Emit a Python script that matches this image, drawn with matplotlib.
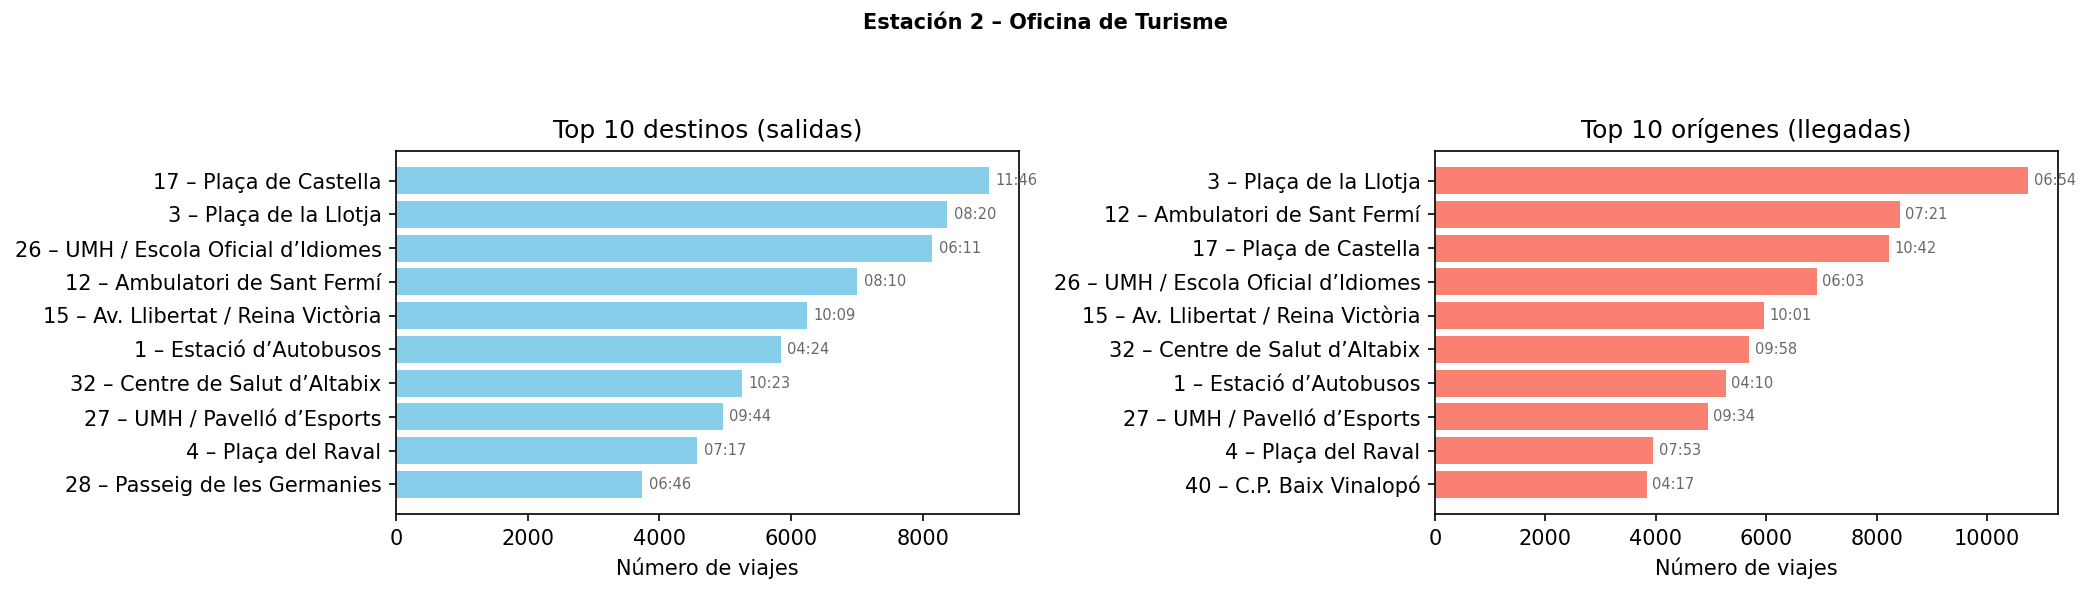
import matplotlib
matplotlib.use("Agg")
import matplotlib.pyplot as plt

suptitle = "Estación 2 – Oficina de Turisme"

dest_title = "Top 10 destinos (salidas)"
dest_labels = [
    "17 – Plaça de Castella",
    "3 – Plaça de la Llotja",
    "26 – UMH / Escola Oficial d’Idiomes",
    "12 – Ambulatori de Sant Fermí",
    "15 – Av. Llibertat / Reina Victòria",
    "1 – Estació d’Autobusos",
    "32 – Centre de Salut d’Altabix",
    "27 – UMH / Pavelló d’Esports",
    "4 – Plaça del Raval",
    "28 – Passeig de les Germanies",
]
dest_values = [9005, 8370, 8143, 7002, 6240, 5844, 5252, 4962, 4572, 3741]
dest_times = ["11:46", "08:20", "06:11", "08:10", "10:09", "04:24", "10:23", "09:44", "07:17", "06:46"]

orig_title = "Top 10 orígenes (llegadas)"
orig_labels = [
    "3 – Plaça de la Llotja",
    "12 – Ambulatori de Sant Fermí",
    "17 – Plaça de Castella",
    "26 – UMH / Escola Oficial d’Idiomes",
    "15 – Av. Llibertat / Reina Victòria",
    "32 – Centre de Salut d’Altabix",
    "1 – Estació d’Autobusos",
    "27 – UMH / Pavelló d’Esports",
    "4 – Plaça del Raval",
    "40 – C.P. Baix Vinalopó",
]
orig_values = [10743, 8421, 8222, 6918, 5957, 5689, 5270, 4943, 3950, 3836]
orig_times = ["06:54", "07:21", "10:42", "06:03", "10:01", "09:58", "04:10", "09:34", "07:53", "04:17"]

xlabel = "Número de viajes"

W, H, DPI = 2091, 594, 150
fig = plt.figure(figsize=(W / DPI, H / DPI), dpi=DPI)

ax_w = 622.7 / W
ax_h = 363.6 / H
bottom = 1 - 514.3 / H
ax1 = fig.add_axes([396 / W, bottom, ax_w, ax_h])
ax2 = fig.add_axes([1435 / W, bottom, ax_w, ax_h])


def draw(ax, labels, values, times, color, title):
    y = list(range(len(labels)))
    ax.barh(y, values, color=color, height=0.8)
    ax.set_yticks(y)
    ax.set_yticklabels(labels, fontsize=10)
    ax.invert_yaxis()
    ax.set_title(title, fontsize=12)
    ax.set_xlabel(xlabel, fontsize=10)
    ax.tick_params(axis="x", labelsize=10)
    for yi, v, t in zip(y, values, times):
        ax.text(v + 100, yi, t, va="center", ha="left", fontsize=7, color="dimgray")


draw(ax1, dest_labels, dest_values, dest_times, "skyblue", dest_title)
draw(ax2, orig_labels, orig_values, orig_times, "salmon", orig_title)

fig.suptitle(suptitle, fontsize=10, fontweight="bold", y=1 - 23 / H, va="center")

fig.savefig("out.png", dpi=DPI)
